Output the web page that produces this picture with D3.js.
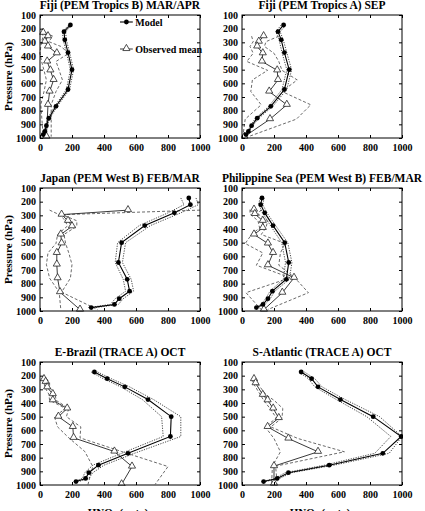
<!DOCTYPE html>
<html>
<head>
<meta charset="utf-8">
<script src="https://cdn.jsdelivr.net/npm/d3@7"></script>
<style>
  body { margin: 0; background: #fff; }
  text { font-family: "Liberation Serif", "Times New Roman", Times, serif; font-weight: bold; fill: #000; }
</style>
</head>
<body>
<div id="chart"></div>
<script>
// model pressure levels (hPa), shared by all panels
var modelP = [173, 222, 282, 375, 500, 645, 768, 855, 910, 952, 975];

// Fiji (PEM Tropics B) MAR/APR
var fijiB_model   = [190, 150, 155, 175, 200, 175, 100, 55, 40, 30, 20];
var fijiB_modelLo = [180, 140, 145, 165, 190, 165, 92, 48, 34, 25, 15];
var fijiB_modelHi = [200, 160, 165, 185, 210, 185, 108, 62, 46, 35, 25];
var fijiB_obsP  = [230, 255, 295, 330, 380, 440, 505, 575, 660, 757, 990];
var fijiB_obs   = [20, 50, 30, 50, 105, 45, 65, 85, 60, 50, 40];
var fijiB_obsLo = [10, 20, 10, 5, 0, 10, 25, 40, 25, 5, 20];
var fijiB_obsHi = [35, 80, 55, 130, 180, 100, 120, 140, 100, 70, 70];

// Fiji (PEM Tropics A) SEP
var fijiA_model   = [260, 225, 245, 265, 295, 265, 180, 95, 60, 40, 25];
var fijiA_modelLo = [245, 212, 232, 250, 280, 250, 168, 85, 52, 34, 20];
var fijiA_modelHi = [275, 238, 258, 280, 310, 280, 192, 105, 68, 46, 30];
var fijiA_obsP  = [255, 295, 330, 380, 440, 505, 575, 660, 757, 862, 990];
var fijiA_obs   = [135, 105, 95, 130, 125, 220, 225, 170, 280, 175, 15];
var fijiA_obsLo = [60, 70, 50, 70, 30, 160, 65, 55, 120, 20, 5];
var fijiA_obsHi = [230, 150, 140, 200, 230, 250, 345, 250, 430, 340, 40];

// Japan (PEM West B) FEB/MAR
var japan_model   = [930, 940, 840, 655, 510, 490, 545, 560, 495, 465, 320];
var japan_modelLo = [880, 900, 800, 620, 485, 470, 520, 535, 470, 440, 300];
var japan_modelHi = [975, 990, 880, 690, 535, 515, 570, 585, 520, 490, 345];
var japan_obsP  = [262, 295, 340, 380, 440, 505, 575, 660, 760, 862, 990];
var japan_obs   = [550, 135, 175, 200, 130, 135, 105, 105, 110, 125, 250];
var japan_obsLo = [60, 120, 160, 170, 110, 100, 50, 40, 60, 120, 130];
var japan_obsHi = [1000, 140, 230, 230, 150, 160, 180, 200, 190, 135, 360];

// Philippine Sea (PEM West B) FEB/MAR
var phil_model   = [125, 117, 142, 194, 267, 292, 277, 190, 162, 131, 90];
var phil_modelLo = [112, 105, 128, 178, 248, 272, 258, 175, 148, 118, 80];
var phil_modelHi = [138, 130, 156, 210, 286, 312, 296, 205, 176, 144, 100];
var phil_obsP  = [258, 290, 340, 392, 440, 506, 575, 665, 757, 866, 990];
var phil_obs   = [75, 80, 130, 130, 75, 162, 194, 162, 325, 252, 137];
var phil_obsLo = [50, 50, 100, 110, 60, 20, 130, 90, 300, 25, 120];
var phil_obsHi = [120, 100, 160, 150, 120, 270, 240, 230, 330, 415, 160];

// E-Brazil (TRACE A) OCT
var brazil_model   = [340, 420, 530, 675, 820, 815, 550, 365, 305, 285, 225];
var brazil_modelLo = [320, 395, 505, 640, 760, 770, 510, 330, 280, 265, 210];
var brazil_modelHi = [360, 445, 560, 710, 880, 880, 590, 400, 330, 305, 240];
var brazil_obsP  = [225, 245, 285, 335, 380, 440, 500, 575, 655, 755, 865, 995];
var brazil_obs   = [25, 35, 45, 80, 80, 170, 115, 205, 210, 465, 575, 510];
var brazil_obsLo = [15, 25, 30, 55, 60, 160, 90, 110, 180, 280, 330, 300];
var brazil_obsHi = [40, 60, 60, 95, 100, 180, 165, 255, 250, 510, 800, 720];

// S-Atlantic (TRACE A) OCT
var satl_model   = [370, 435, 475, 615, 820, 995, 880, 545, 290, 220, 135];
var satl_modelLo = [355, 415, 455, 590, 780, 930, 830, 515, 270, 205, 125];
var satl_modelHi = [390, 455, 500, 645, 860, 1000, 920, 575, 310, 235, 145];
var satl_obsP  = [225, 255, 340, 380, 440, 510, 575, 660, 757, 862, 990];
var satl_obs   = [75, 85, 130, 160, 195, 230, 160, 290, 475, 200, 200];
var satl_obsLo = [65, 70, 115, 135, 175, 215, 145, 200, 240, 190, 185];
var satl_obsHi = [85, 95, 150, 200, 255, 250, 180, 350, 640, 210, 220];

var titles = ["Fiji (PEM Tropics B) MAR/APR", "Fiji (PEM Tropics A) SEP",
    "Japan (PEM West B) FEB/MAR", "Philippine Sea (PEM West B) FEB/MAR",
    "E-Brazil (TRACE A) OCT", "S-Atlantic (TRACE A) OCT"];
var xTicks = [0, 200, 400, 600, 800, 1000];
var yTicks = [100, 200, 300, 400, 500, 600, 700, 800, 900, 1000];

var panels = [
    {model: fijiB_model, lo: fijiB_modelLo, hi: fijiB_modelHi, obsP: fijiB_obsP, obs: fijiB_obs, obsLo: fijiB_obsLo, obsHi: fijiB_obsHi},
    {model: fijiA_model, lo: fijiA_modelLo, hi: fijiA_modelHi, obsP: fijiA_obsP, obs: fijiA_obs, obsLo: fijiA_obsLo, obsHi: fijiA_obsHi},
    {model: japan_model, lo: japan_modelLo, hi: japan_modelHi, obsP: japan_obsP, obs: japan_obs, obsLo: japan_obsLo, obsHi: japan_obsHi},
    {model: phil_model, lo: phil_modelLo, hi: phil_modelHi, obsP: phil_obsP, obs: phil_obs, obsLo: phil_obsLo, obsHi: phil_obsHi},
    {model: brazil_model, lo: brazil_modelLo, hi: brazil_modelHi, obsP: brazil_obsP, obs: brazil_obs, obsLo: brazil_obsLo, obsHi: brazil_obsHi},
    {model: satl_model, lo: satl_modelLo, hi: satl_modelHi, obsP: satl_obsP, obs: satl_obs, obsLo: satl_obsLo, obsHi: satl_obsHi}
];

//---- layout
var W = 425, H = 511;
var colX = [40, 242], rowY = [15, 188, 362];
var pw = 160, ph = 123;

var svg = d3.select("#chart").append("svg").attr("width", W).attr("height", H);

var x = d3.scaleLinear().domain([0, 1000]).range([0, pw]);
var y = d3.scaleLinear().domain([100, 1000]).range([0, ph]);

var tri = d3.symbol().type(d3.symbolTriangle).size(22);

panels.forEach(function(p, i) {
    var col = i % 2, row = Math.floor(i / 2);
    var g = svg.append("g").attr("transform", "translate(" + colX[col] + "," + rowY[row] + ")");

    g.append("text").attr("x", pw / 2).attr("y", -6.5)
        .attr("text-anchor", "middle").style("font-size", "11.5px")
        .text(titles[i]);

    // clip for lines running to the frame edge
    var clipId = "clip" + i;
    g.append("clipPath").attr("id", clipId).append("rect")
        .attr("x", -1).attr("y", -1).attr("width", pw + 2).attr("height", ph + 2);
    var plot = g.append("g").attr("clip-path", "url(#" + clipId + ")");

    function profile(vals, levels) {
        return d3.line().x(function(d) { return x(d); })
            .y(function(d, k) { return y(levels[k]); })(vals);
    }

    // observed range (dashed)
    [p.obsLo, p.obsHi].forEach(function(s) {
        plot.append("path").attr("d", profile(s, p.obsP))
            .style("fill", "none").style("stroke", "#444").style("stroke-width", 0.8)
            .style("stroke-dasharray", "3,2");
    });
    // model range (dotted)
    [p.lo, p.hi].forEach(function(s) {
        plot.append("path").attr("d", profile(s, modelP))
            .style("fill", "none").style("stroke", "#333").style("stroke-width", 0.9)
            .style("stroke-dasharray", "1.2,1.3");
    });
    // observed mean
    plot.append("path").attr("d", profile(p.obs, p.obsP))
        .style("fill", "none").style("stroke", "#222").style("stroke-width", 0.9);
    plot.selectAll(".tri").data(p.obs).enter().append("path")
        .attr("transform", function(d, k) { return "translate(" + x(d) + "," + (y(p.obsP[k]) - 0.5) + ")"; })
        .attr("d", tri).style("fill", "#fff").style("stroke", "#222").style("stroke-width", 0.8);
    // model
    plot.append("path").attr("d", profile(p.model, modelP))
        .style("fill", "none").style("stroke", "#000").style("stroke-width", 1.1);
    plot.selectAll(".dot").data(p.model).enter().append("circle")
        .attr("cx", function(d) { return x(d); })
        .attr("cy", function(d, k) { return y(modelP[k]); })
        .attr("r", 2.4).style("fill", "#000");

    // axes, ticks pointing inward
    var fmt = d3.format("d");
    var ax = [
        g.append("g").attr("transform", "translate(0," + ph + ")")
            .call(d3.axisBottom(x).tickValues(xTicks).tickFormat(fmt).tickSize(-3).tickSizeOuter(0).tickPadding(6)),
        g.append("g").call(d3.axisTop(x).tickValues(xTicks).tickSize(-3).tickSizeOuter(0).tickFormat("")),
        g.append("g").call(d3.axisLeft(y).tickValues(yTicks).tickFormat(fmt).tickSize(-3).tickSizeOuter(0).tickPadding(4)),
        g.append("g").attr("transform", "translate(" + pw + ",0)")
            .call(d3.axisRight(y).tickValues(yTicks).tickSize(-3).tickSizeOuter(0).tickFormat(""))
    ];
    ax.forEach(function(a) {
        a.attr("font-family", null);
        a.select(".domain").remove();
        a.selectAll("text").style("font-size", "10px");
        a.selectAll("line").style("stroke", "#000");
    });

    g.append("rect").attr("width", pw).attr("height", ph)
        .style("fill", "none").style("stroke", "#000").style("stroke-width", 1);

    if (col === 0) {
        g.append("text").attr("transform", "rotate(-90)")
            .attr("x", -ph / 2).attr("y", -28)
            .attr("text-anchor", "middle").style("font-size", "11px")
            .text("Pressure (hPa)");
    }
    if (row === 2) {
        var lab = g.append("text").attr("x", pw / 2 - 2).attr("y", ph + 31)
            .attr("text-anchor", "middle").style("font-size", "11px");
        lab.append("tspan").text("HNO");
        lab.append("tspan").attr("dy", 3).style("font-size", "8px").text("3");
        lab.append("tspan").attr("dy", -3).text(" (pptv)");
    }

    // legend in first panel
    if (i === 0) {
        var lg = g.append("g");
        lg.append("line").attr("x1", x(500)).attr("x2", x(580)).attr("y1", 7).attr("y2", 7)
            .style("stroke", "#000").style("stroke-width", 1.1);
        lg.append("circle").attr("cx", x(540)).attr("cy", 7).attr("r", 2.4).style("fill", "#000");
        lg.append("text").attr("x", x(595)).attr("y", 10.5).style("font-size", "10px").text("Model");
        lg.append("line").attr("x1", x(500)).attr("x2", x(580)).attr("y1", 34).attr("y2", 34)
            .style("stroke", "#222").style("stroke-width", 0.9);
        lg.append("path").attr("transform", "translate(" + x(540) + ",33.5)").attr("d", tri)
            .style("fill", "#fff").style("stroke", "#222").style("stroke-width", 0.8);
        lg.append("text").attr("x", x(595)).attr("y", 37.5).style("font-size", "10px").text("Observed mean");
    }
});
</script>
</body>
</html>
